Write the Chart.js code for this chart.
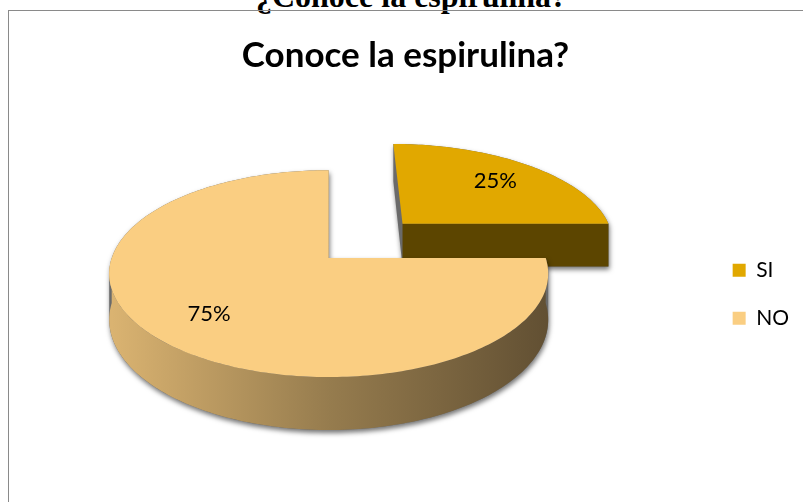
<!DOCTYPE html>
<html>
<head>
<meta charset="utf-8">
<script src="https://cdn.jsdelivr.net/npm/chart.js@4.4.0/dist/chart.umd.min.js"></script>
<style>
  html, body { margin: 0; padding: 0; background: #fff; overflow: hidden; width: 803px; height: 502px; }
  #heading { position: absolute; left: 0; top: -20px; width: 823px; text-align: center;
    font: bold 32px 'Liberation Serif', serif; line-height: 32px; color: #000; white-space: nowrap; }
  #frame { position: absolute; left: 8px; top: 10px; width: 820px; height: 560px; border: 1px solid #8a8a8a; }
  #frame canvas { position: absolute; left: 0; top: 0; }
</style>
</head>
<body>
<div id="heading">¿Conoce la espirulina?</div>
<div id="frame"><canvas id="myChart" width="807" height="486"></canvas></div>
<script>
const categories = ['SI', 'NO'];
const answers = [25, 75];
const sliceColors = ['#E1A800', '#FACE82'];
const explode = [110, 0];

function rgb(hex) {
  const n = parseInt(hex.slice(1), 16);
  return [(n >> 16) & 255, (n >> 8) & 255, n & 255];
}
function shade(hex, f) {
  const c = rgb(hex).map(v => Math.round(v * f));
  return 'rgb(' + c.join(',') + ')';
}

// draws the pie as a cylinder seen in perspective from above and in front
const pie3d = {
  id: 'pie3d',
  beforeDatasetsDraw(chart, args, opts) {
    const meta = chart.getDatasetMeta(0);
    const ctx = chart.ctx;
    const total = answers.reduce((a, b) => a + b, 0);

    const slices = meta.data.map((arc, i) => {
      const off = arc.options.offset || 0;
      const mid = (arc.startAngle + arc.endAngle) / 2;
      return {
        i, s: arc.startAngle, e: arc.endAngle, r: arc.outerRadius, mid,
        ox: Math.cos(mid) * off, oy: Math.sin(mid) * off,
        color: arc.options.backgroundColor
      };
    });

    // wy < 0 is away from the viewer; z = 0 top face, z = 1 bottom
    const proj = (wx, wy, z) => {
      const s = 1 / (1 - wy / opts.distance);
      return [wx * s, (wy * opts.tilt + z * opts.depth) * s];
    };
    const rim = (sl, a0, a1, z) => {
      const pts = [];
      const n = Math.max(2, Math.ceil(Math.abs(a1 - a0) / 0.02));
      for (let k = 0; k <= n; k++) {
        const a = a0 + (a1 - a0) * k / n;
        pts.push(proj(sl.ox + Math.cos(a) * sl.r, sl.oy + Math.sin(a) * sl.r, z));
      }
      return pts;
    };
    const spoke = (sl, a, z) => {
      const pts = [];
      for (let k = 0; k <= 16; k++) {
        const t = k / 16;
        pts.push(proj(sl.ox + Math.cos(a) * sl.r * t, sl.oy + Math.sin(a) * sl.r * t, z));
      }
      return pts;
    };
    const outline = (sl, z) => [...spoke(sl, sl.s, z), ...rim(sl, sl.s, sl.e, z), ...spoke(sl, sl.e, z).reverse()];

    // centre the whole solid (explosion and walls included) on the pie centre
    let minX = Infinity, maxX = -Infinity, minY = Infinity, maxY = -Infinity;
    slices.forEach(sl => [0, 1].forEach(z => outline(sl, z).forEach(([px, py]) => {
      minX = Math.min(minX, px); maxX = Math.max(maxX, px);
      minY = Math.min(minY, py); maxY = Math.max(maxY, py);
    })));
    const cx = meta.data[0].x - (minX + maxX) / 2;
    const cy = meta.data[0].y - (minY + maxY) / 2;

    const area = pts => {
      let s = 0;
      for (let k = 0; k < pts.length; k++) {
        const [x1, y1] = pts[k], [x2, y2] = pts[(k + 1) % pts.length];
        s += x1 * y2 - x2 * y1;
      }
      return s;
    };
    const addPoly = (pts, orient) => {
      if (orient && area(pts) < 0) pts = pts.slice().reverse();
      ctx.moveTo(cx + pts[0][0], cy + pts[0][1]);
      for (let k = 1; k < pts.length; k++) ctx.lineTo(cx + pts[k][0], cy + pts[k][1]);
      ctx.closePath();
    };
    const fillPoly = (pts, style) => {
      ctx.beginPath();
      addPoly(pts, false);
      ctx.fillStyle = style;
      ctx.fill();
    };

    // back slices first
    const order = slices.slice().sort((a, b) =>
      (a.oy + Math.sin(a.mid) * a.r) - (b.oy + Math.sin(b.mid) * b.r));

    ctx.save();
    order.forEach(sl => {
      const top = outline(sl, 0);
      const bottom = outline(sl, 1);

      // drop shadow of the solid's silhouette
      ctx.save();
      ctx.beginPath();
      addPoly(top, true);
      addPoly(bottom, true);
      for (let k = 0; k < top.length - 1; k++) {
        addPoly([top[k], top[k + 1], bottom[k + 1], bottom[k]], true);
      }
      ctx.shadowColor = 'rgba(0,0,0,0.55)';
      ctx.shadowBlur = 5;
      ctx.shadowOffsetX = 1;
      ctx.shadowOffsetY = 3;
      ctx.fillStyle = '#6a6a6a';
      ctx.fill();
      ctx.restore();

      // cut faces that turn towards the viewer
      [[sl.s, -Math.cos(sl.s)], [sl.e, Math.cos(sl.e)]].forEach(([a, facing]) => {
        if (facing < 1e-6) return;
        const t = spoke(sl, a, 0), b = spoke(sl, a, 1);
        fillPoly([...t, ...b.reverse()], shade(sl.color, opts.cutShade));
      });

      // front part of the curved wall
      for (let k = -1; k <= 1; k++) {
        const a0 = Math.max(sl.s, 2 * k * Math.PI), a1 = Math.min(sl.e, 2 * k * Math.PI + Math.PI);
        if (a1 - a0 < 1e-6) continue;
        const t = rim(sl, a0, a1, 0), b = rim(sl, a0, a1, 1);
        const g = ctx.createLinearGradient(cx + sl.ox - sl.r, 0, cx + sl.ox + sl.r, 0);
        opts.wallShade.forEach(([stop, f]) => g.addColorStop(stop, shade(sl.color, f)));
        fillPoly([...t, ...b.reverse()], g);
      }

      fillPoly(top, sl.color);
    });

    // percentage labels on the top faces
    ctx.fillStyle = '#000';
    ctx.font = opts.labelFont;
    ctx.textAlign = 'center';
    ctx.textBaseline = 'middle';
    slices.forEach(sl => {
      const [px, py] = proj(sl.ox + Math.cos(sl.mid) * sl.r * opts.labelAt,
                            sl.oy + Math.sin(sl.mid) * sl.r * opts.labelAt, 0);
      ctx.fillText(Math.round(answers[sl.i] / total * 100) + '%', cx + px, cy + py);
    });
    ctx.restore();
    return false;
  }
};

new Chart(document.getElementById('myChart'), {
  type: 'pie',
  data: {
    labels: categories,
    datasets: [{
      data: answers,
      backgroundColor: sliceColors,
      borderWidth: 0,
      offset: explode
    }]
  },
  options: {
    responsive: false,
    animation: false,
    events: [],
    devicePixelRatio: 1,
    radius: 217,
    layout: { padding: { left: 3, right: 17, top: 0, bottom: 0 } },
    plugins: {
      title: {
        display: true,
        text: 'Conoce la espirulina?',
        color: '#000',
        font: { family: 'Lato', size: 35, weight: 'bold' },
        padding: { top: 24, bottom: 0 }
      },
      legend: {
        position: 'right',
        fullSize: false,
        title: { display: true, text: ' ', font: { size: 12 }, padding: 0 },
        labels: {
          color: '#000',
          boxWidth: 13,
          boxHeight: 13,
          padding: 27,
          font: { family: 'Lato', size: 21 }
        }
      },
      tooltip: { enabled: false },
      pie3d: {
        tilt: 0.466,
        distance: 1446,
        depth: 45,
        labelAt: 0.72,
        labelFont: '22px Lato',
        cutShade: 0.41,
        wallShade: [[0, 0.87], [0.5, 0.6], [1, 0.39]]
      }
    }
  },
  plugins: [pie3d]
});
</script>
</body>
</html>
